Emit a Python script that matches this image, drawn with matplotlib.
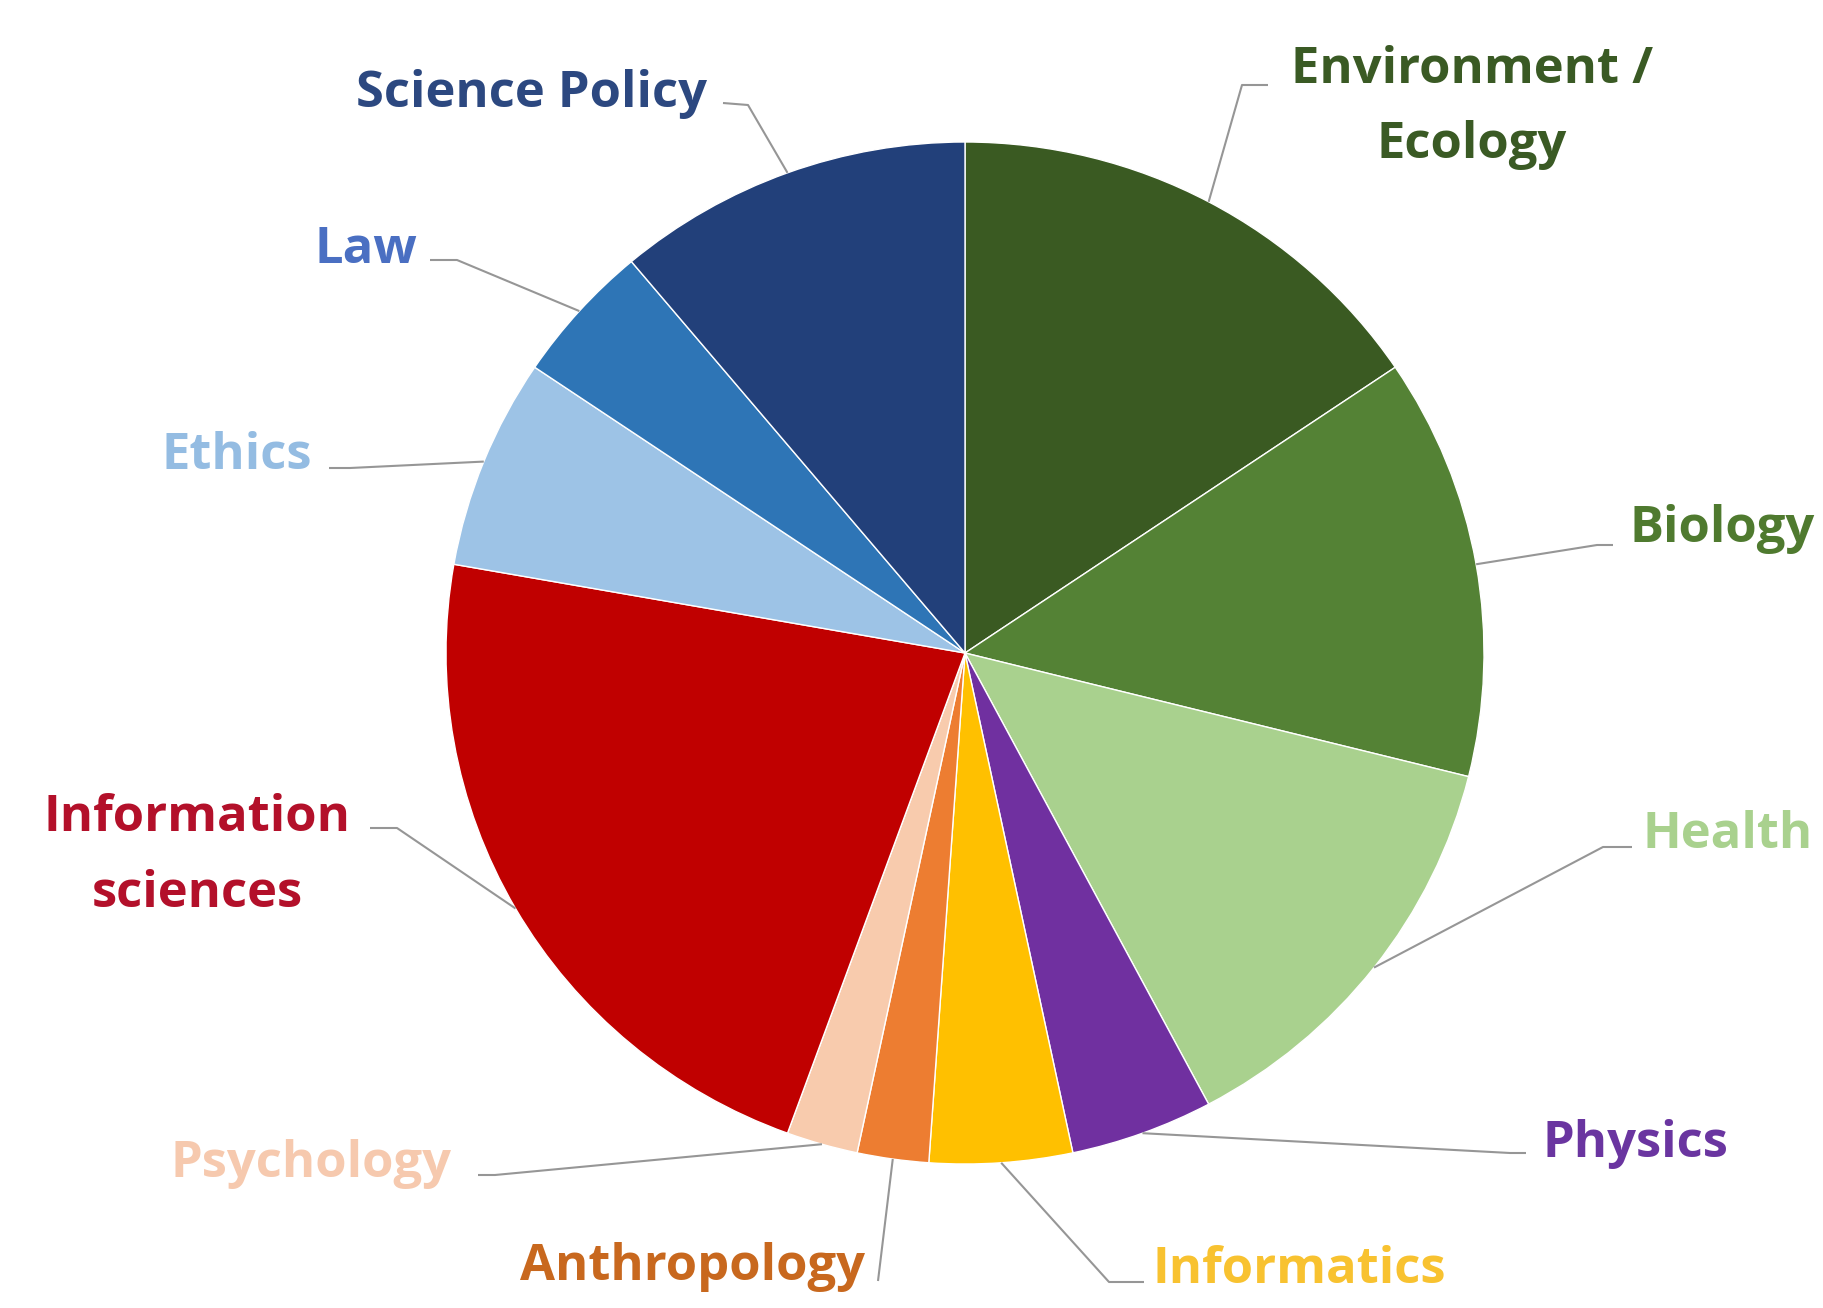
import matplotlib
matplotlib.use("Agg")
import matplotlib.pyplot as plt
import numpy as np

# ---- data ----
categories = ["Environment /\nEcology", "Biology", "Health", "Physics", "Informatics",
              "Anthropology", "Psychology", "Information\nsciences", "Ethics", "Law",
              "Science Policy"]
counts = [7, 6, 6, 2, 2, 1, 1, 10, 3, 2, 5]
slice_colors = ["#3A5A22", "#548235", "#A9D18E", "#7030A0", "#FFC000",
                "#ED7D31", "#F8CBAD", "#C00000", "#9DC3E6", "#2E75B6", "#22407A"]
text_colors = ["#3A5A24", "#4F7A2F", "#A9D18E", "#6A35A0", "#F8C230",
               "#C8681E", "#F6C9AE", "#B3102A", "#94BCE2", "#4A6FC2", "#2C4880"]

# ---- layout (pixels) ----
W, H = 1824, 1308
CX, CY = 965, 653
RX, RY = 519, 511

# label layout: (x, ha, [baselines]), leader start, leader elbow
label_layout = [
    (1472, "center", [83, 158], (1268, 85), (1242, 85)),
    (1630, "left", [542], (1613, 545), (1597, 545)),
    (1643, "left", [848], (1632, 847), (1603, 847)),
    (1543, "left", [1157], (1526, 1153), (1510, 1153)),
    (1153, "left", [1283], (1144, 1282), (1109, 1282)),
    (865, "right", [1280], (878, 1281), (878, 1281)),
    (452, "right", [1177], (478, 1175), (495, 1175)),
    (197, "center", [831, 907], (370, 828), (397, 828)),
    (312, "right", [469], (329, 468), (350, 468)),
    (417, "right", [263], (430, 260), (457, 260)),
    (707, "right", [107], (723, 103), (748, 105)),
]

fig = plt.figure(figsize=(W / 100, H / 100), dpi=100)
fig.patch.set_facecolor("white")
ax = fig.add_axes([0, 0, 1, 1])


def px(x, y):
    return ((x - CX) / RX, (CY - y) / RY)


wedges, _ = ax.pie(counts, colors=slice_colors, startangle=90, counterclock=False,
                   radius=1, center=(0, 0),
                   wedgeprops=dict(edgecolor="white", linewidth=1.0), frame=False)
ax.set_aspect("auto")
ax.set_xlim(-CX / RX, (W - CX) / RX)
ax.set_ylim(-(H - CY) / RY, CY / RY)
ax.axis("off")

for w, label, tcol, (lx, ha, baselines, start, elbow) in zip(
        wedges, categories, text_colors, label_layout):
    mid = np.deg2rad((w.theta1 + w.theta2) / 2)
    ex, ey = np.cos(mid), np.sin(mid)
    sx, sy = px(*start)
    bx, by = px(*elbow)
    ax.plot([sx, bx, ex], [sy, by, ey], color="#969696", lw=1.5,
            solid_capstyle="butt", zorder=1)
    for line, base in zip(label.split("\n"), baselines):
        ax.text(*px(lx, base), line, ha=ha, va="baseline", fontsize=36.5,
                fontweight="bold", family=["Open Sans", "DejaVu Sans"], color=tcol)

fig.savefig("out.png", dpi=100, facecolor="white")
